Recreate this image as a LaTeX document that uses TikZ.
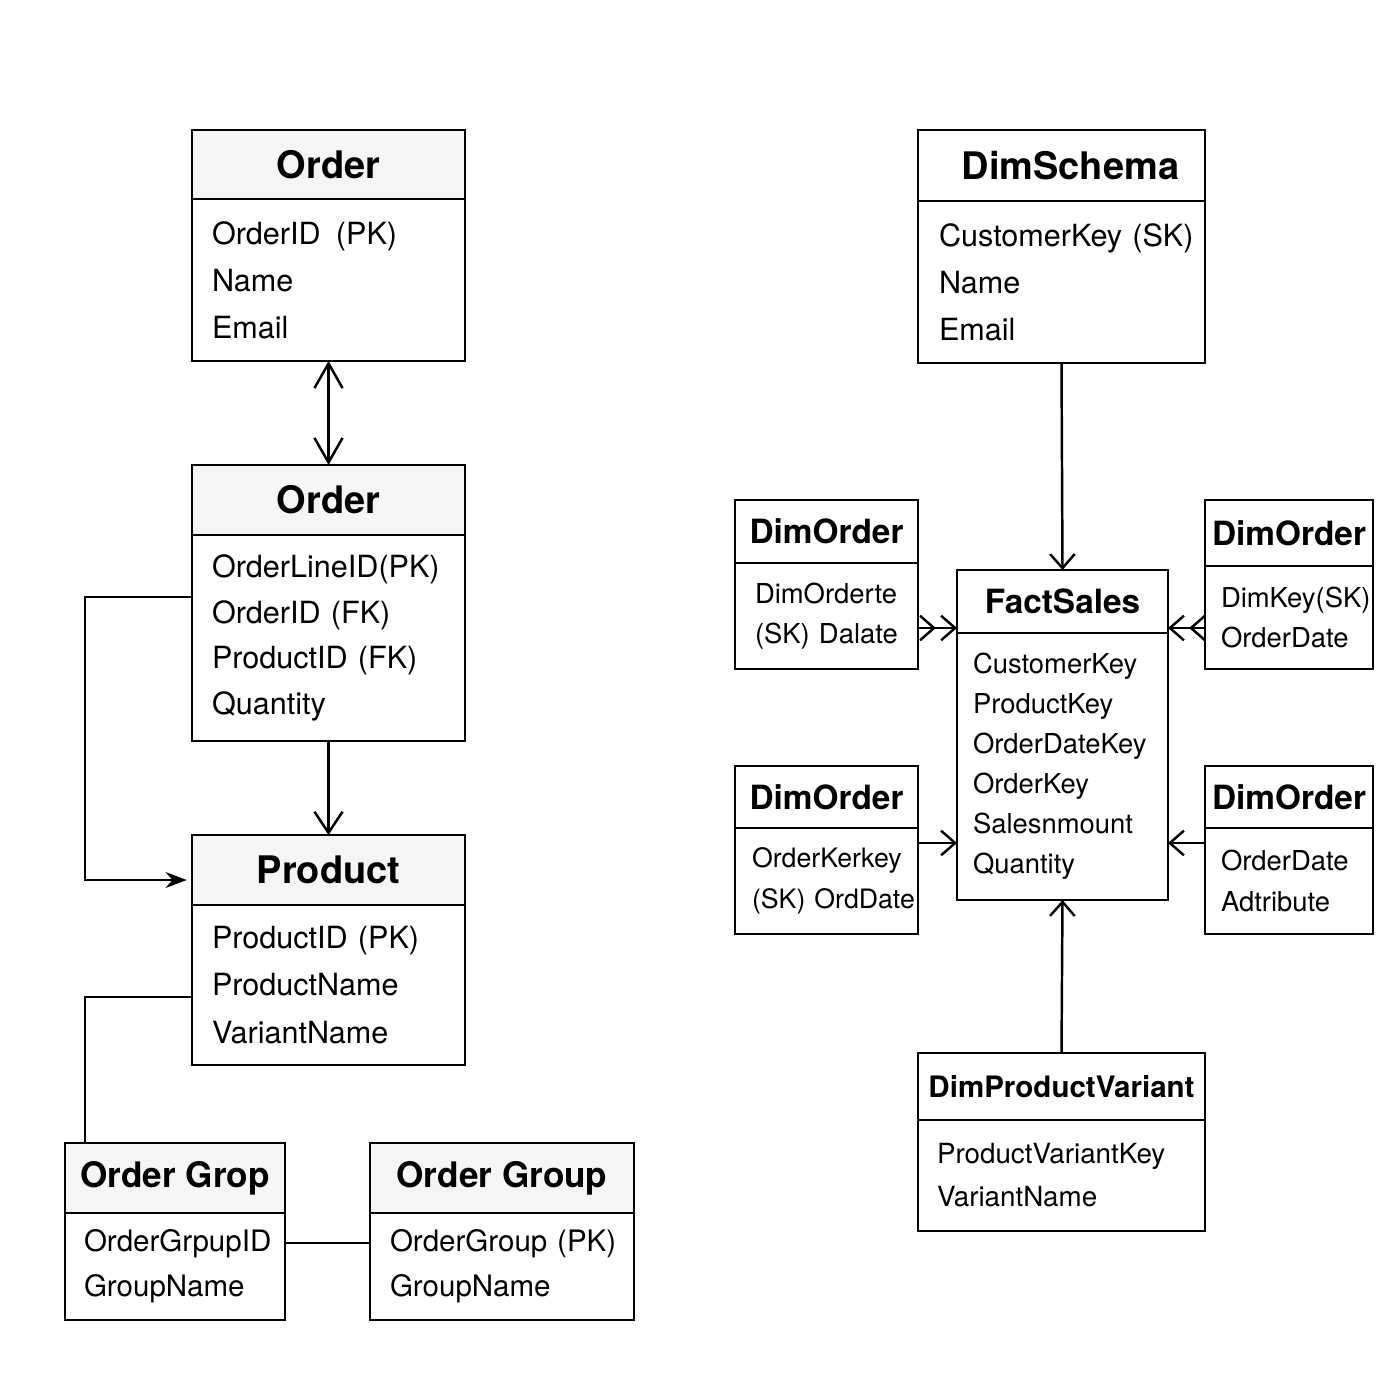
\documentclass[tikz,border=0pt]{standalone}
\usepackage{fontspec}
\setmainfont{TeX Gyre Heros}
\usetikzlibrary{positioning}
\usetikzlibrary{arrows.meta}
\tikzset{title/.style={draw,anchor=north west,outer sep=0pt,inner sep=0pt,line width=0.7pt}}
\tikzset{bigtitle/.style={title,fill=black!4,font=\fontsize{10.8}{13}\selectfont\bfseries}}
\tikzset{dimtitle/.style={title,fill=white,font=\fontsize{9.5}{11}\selectfont\bfseries}}
\tikzset{field/.style={draw,fill=white,align=left,outer sep=0pt,inner xsep=0.2cm,inner ysep=0pt,line width=0.7pt}}
\tikzset{bigfield/.style={field,font=\fontsize{8.7}{13.4}\selectfont}}
\tikzset{dimfield/.style={field,inner xsep=0.16cm,font=\fontsize{7.8}{11.5}\selectfont}}
\tikzset{link/.style={line width=0.7pt}}
\tikzset{barb/.style={link,-{Straight Barb[length=6pt,width=8pt]}}}
\tikzset{barbs/.style={link,-{Straight Barb[length=4pt,width=7pt]}}}

\begin{document}
\begin{tikzpicture}
	\useasboundingbox (0,0) rectangle (14,-14);

	% operational model
	\node[bigtitle,minimum width=2.73cm,minimum height=0.69cm](o1h) at (1.92,-1.30){Order};
	\node[bigfield,text width=2.33cm,minimum height=1.62cm,below=0pt of o1h](o1b){OrderID~\,(PK)\\Name\\Email};

	\node[bigtitle,minimum width=2.73cm,minimum height=0.70cm](o2h) at (1.92,-4.65){Order};
	\node[bigfield,text width=2.33cm,minimum height=2.06cm,below=0pt of o2h,font=\fontsize{8.7}{13}\selectfont](o2b){OrderLineID(PK)\\OrderID~(FK)\\ProductID~(FK)\\Quantity};

	\node[bigtitle,minimum width=2.73cm,minimum height=0.70cm](ph) at (1.92,-8.35){Product};
	\node[bigfield,text width=2.33cm,minimum height=1.60cm,below=0pt of ph](pb){ProductID~(PK)\\ProductName\\VariantName};

	\node[bigtitle,minimum width=2.20cm,minimum height=0.70cm,font=\fontsize{10}{12}\selectfont\bfseries](ogh) at (0.65,-11.43){Order Grop};
	\node[bigfield,inner xsep=0.19cm,text width=1.82cm,minimum height=1.07cm,below=0pt of ogh,font=\fontsize{8.4}{12.8}\selectfont](ogb){OrderGrpupID\\GroupName};

	\node[bigtitle,minimum width=2.64cm,minimum height=0.70cm,font=\fontsize{10}{12}\selectfont\bfseries](ggh) at (3.70,-11.43){Order Group};
	\node[bigfield,text width=2.24cm,minimum height=1.07cm,below=0pt of ggh,font=\fontsize{8.4}{12.8}\selectfont](ggb){OrderGroup~(PK)\\GroupName};

	% star schema
	\node[bigtitle,fill=white,minimum width=2.87cm,minimum height=0.71cm](dsh) at (9.18,-1.30){\hspace*{0.18cm}DimSchema};
	\node[bigfield,inner xsep=0.21cm,text width=2.45cm,minimum height=1.62cm,below=0pt of dsh](dsb){CustomerKey~(SK)\\Name\\Email};

	\node[dimtitle,minimum width=2.11cm,minimum height=0.63cm](fsh) at (9.57,-5.70){FactSales};
	\node[dimfield,text width=1.79cm,minimum height=2.67cm,below=0pt of fsh,font=\fontsize{7.8}{11.4}\selectfont](fsb){CustomerKey\\ProductKey\\OrderDateKey\\OrderKey\\Salesnmount\\Quantity};

	\node[dimtitle,minimum width=1.83cm,minimum height=0.63cm](d1h) at (7.35,-5.00){DimOrder};
	\node[dimfield,inner xsep=0.2cm,text width=1.43cm,minimum height=1.06cm,below=0pt of d1h](d1b){DimOrderte\\\mbox{(SK)~Dalate}};

	\node[dimtitle,minimum width=1.68cm,minimum height=0.66cm](d2h) at (12.05,-5.00){DimOrder};
	\node[dimfield,text width=1.36cm,minimum height=1.03cm,below=0pt of d2h](d2b){\mbox{DimKey(SK)}\\OrderDate};

	\node[dimtitle,minimum width=1.83cm,minimum height=0.62cm](d3h) at (7.35,-7.66){DimOrder};
	\node[dimfield,inner xsep=0.17cm,text width=1.49cm,minimum height=1.06cm,below=0pt of d3h,font=\fontsize{7.6}{11.5}\selectfont](d3b){\mbox{OrderKerkey}\\\mbox{(SK)~OrdDate}};

	\node[dimtitle,minimum width=1.68cm,minimum height=0.62cm](d4h) at (12.05,-7.66){DimOrder};
	\node[dimfield,text width=1.36cm,minimum height=1.06cm,below=0pt of d4h](d4b){OrderDate\\Adtribute};

	\node[dimtitle,minimum width=2.87cm,minimum height=0.67cm,font=\fontsize{8.4}{10}\selectfont\bfseries](dpvh) at (9.18,-10.53){DimProductVariant};
	\node[dimfield,inner xsep=0.19cm,text width=2.49cm,minimum height=1.11cm,below=0pt of dpvh,font=\fontsize{7.9}{12.2}\selectfont](dpvb){ProductVariantKey\\VariantName};

	% left connectors
	\draw[link,{Straight Barb[length=7pt,width=8pt]}-{Straight Barb[length=7pt,width=8pt]}] (o1b.south) -- (o2h.north);
	\draw[barb] (o2b.south) -- (ph.north);
	\coordinate (o2out) at ([yshift=0.41cm]o2b.west);
	\coordinate (pin) at ([yshift=-0.10cm]ph.west);
	\draw[link,-{Stealth[length=6pt,width=4.5pt]},shorten >=1.5pt] (o2out) -- ++(-1.07,0) |- (pin);
	\draw[link] ([yshift=-0.12cm]pb.west) -| ([xshift=0.2cm]ogh.north west);
	\draw[link] ([yshift=0.235cm]ogb.east) -- ([yshift=0.235cm]ggb.west);

	% right connectors
	\draw[barbs] (dsb.south) -- (fsh.north);
	\draw[barbs] (dpvh.north) -- (fsb.south);

	\coordinate (d1out) at ([yshift=-0.12cm]d1b.east);
	\draw[barbs] (d1out) -- (d1out -| fsh.west);
	\draw[barbs,shorten >=6pt] (d1out) -- (d1out -| fsh.west);

	\coordinate (d2out) at ([yshift=-0.105cm]d2b.west);
	\draw[barbs] (d2out) -- (d2out -| fsh.east);
	\draw[barbs,shorten >=6pt] (d2out) -- (d2out -| fsh.east);

	\coordinate (d3out) at ([yshift=0.38cm]d3b.east);
	\draw[barbs] (d3out) -- (d3out -| fsb.west);

	\coordinate (d4out) at ([yshift=0.38cm]d4b.west);
	\draw[barbs] (d4out) -- (d4out -| fsb.east);
\end{tikzpicture}
\end{document}
